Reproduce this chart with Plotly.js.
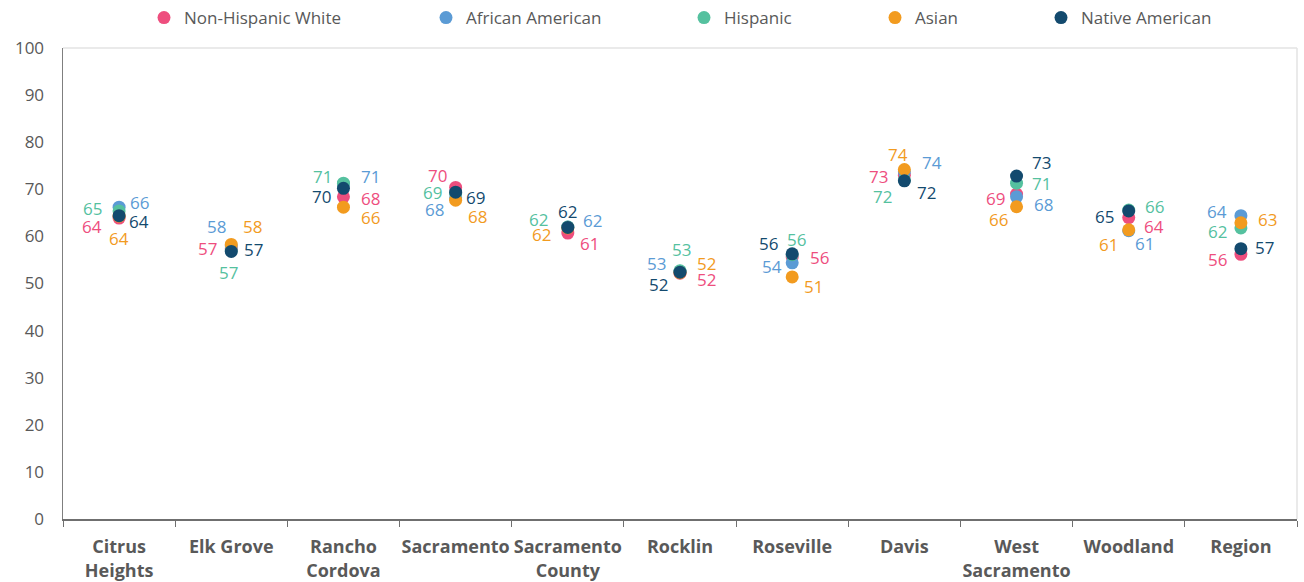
<!DOCTYPE html>
<html>
<head>
<meta charset="utf-8">
<script src="https://cdn.plot.ly/plotly-3.0.1.min.js"></script>
<style>html,body{margin:0;padding:0;background:#fff;}#chart{width:1304px;height:582px;}</style>
</head>
<body>
<div id="chart"></div>
<script>
// Category tick labels (x axis)
const tickLabels = ['Citrus<br>Heights', 'Elk Grove', 'Rancho<br>Cordova', 'Sacramento', 'Sacramento<br>County',
  'Rocklin', 'Roseville', 'Davis', 'West<br>Sacramento', 'Woodland', 'Region'];

// Series names
const seriesNames = ['Non-Hispanic White', 'African American', 'Hispanic', 'Asian', 'Native American'];

// Series values
const nonHispanicWhite = [63.9, 57.3, 68.4, 70.4, 60.7, 52.2, 55.6, 73.0, 69.0, 64.0, 56.2];
const africanAmerican  = [66.2, 58.0, 71.1, 68.2, 62.0, 52.6, 54.4, 73.7, 68.4, 61.2, 64.4];
const hispanic         = [65.4, 57.0, 71.3, 69.1, 62.0, 52.7, 56.1, 72.0, 71.3, 65.6, 61.8];
const asian            = [64.3, 58.3, 66.2, 67.7, 61.8, 52.3, 51.4, 74.2, 66.3, 61.4, 62.9];
const nativeAmerican   = [64.4, 56.8, 70.2, 69.4, 61.9, 52.4, 56.3, 71.8, 72.8, 65.4, 57.4];

// Styling
const colors = ['#EE4E7E', '#5B9BD5', '#55C19F', '#F29B1F', '#134A6E'];
// label pixel offsets [dx, dy(down)] per series per category
const labelOffsets = [
  [[-27,8],[-24,-1],[27,2],[-18,-12],[22,10],[26,6],[27,0],[-26,1],[-21,4],[25,9],[-23,5]],
  [[20,-5],[-15,-19],[27,-8],[-21,12],[25,-6],[-24,-8],[-20,4],[28,-9],[27,8],[16,13],[-24,-4]],
  [[-27,-2],[-3,22],[-21,-7],[-23,-1],[-29,-7],[1,-21],[4,-15],[-22,17],[25,0],[26,-4],[-23,4]],
  [[0,22],[21,-18],[27,10],[22,16],[-26,7],[26,-9],[21,10],[-6,-15],[-18,13],[-20,15],[27,-3]],
  [[20,6],[22,-2],[-22,8],[20,5],[0,-16],[-22,12],[-24,-10],[22,12],[25,-14],[-24,6],[24,-1]]
];
const legendX = [144, 426, 684, 875, 1041];

const allSeries = [nonHispanicWhite, africanAmerican, hispanic, asian, nativeAmerican];
const FONT = 'Open Sans, Liberation Sans, sans-serif';

const traces = allSeries.map((vals, s) => ({
  type: 'scatter', mode: 'markers', name: seriesNames[s],
  x: tickLabels, y: vals,
  marker: {color: colors[s], size: 13},
  legend: s === 0 ? 'legend' : 'legend' + (s + 1),
  hoverinfo: 'x+y+name'
}));

const annotations = [];
allSeries.forEach((vals, s) => {
  vals.forEach((v, i) => {
    annotations.push({
      x: tickLabels[i], y: v, xref: 'x', yref: 'y',
      text: String(Math.round(v)), showarrow: false,
      xanchor: 'center', yanchor: 'middle',
      xshift: labelOffsets[s][i][0], yshift: -labelOffsets[s][i][1],
      font: {family: FONT, size: 17, color: colors[s]}
    });
  });
});

const layout = {
  width: 1304, height: 582,
  margin: {l: 63, r: 7, t: 48, b: 63},
  paper_bgcolor: '#ffffff', plot_bgcolor: '#ffffff',
  showlegend: true,
  font: {family: FONT, size: 17, color: '#595959'},
  xaxis: {
    type: 'category', range: [-0.5, tickLabels.length - 0.5],
    showline: true, linecolor: '#6f6f6f', linewidth: 1.5,
    ticks: 'outside', tickson: 'boundaries', ticklen: 6, tickcolor: '#6f6f6f', tickwidth: 1,
    showgrid: false, zeroline: false, tickangle: 0, automargin: false,
    tickfont: {family: FONT, size: 18, color: '#595959', weight: 'bold'},
    ticklabelstandoff: 11
  },
  xaxis2: {
    type: 'linear', overlaying: 'x', anchor: 'y', side: 'bottom',
    range: [-0.5, tickLabels.length - 0.5],
    tickmode: 'array', tickvals: tickLabels.map((_, i) => i - 0.5).concat([tickLabels.length - 0.5]),
    ticks: 'inside', ticklen: 7, tickcolor: '#6f6f6f', tickwidth: 1,
    showticklabels: false, showgrid: false, zeroline: false, showline: false
  },
  yaxis: {
    range: [0, 100], dtick: 10, tick0: 0,
    showline: true, linecolor: '#7f7f7f', linewidth: 1.5,
    ticks: '', showgrid: false, zeroline: false,
    tickfont: {family: FONT, size: 17, color: '#595959'},
    ticklabelstandoff: 14
  },
  shapes: [
    {type: 'line', xref: 'paper', yref: 'paper', x0: 0, x1: 1, y0: 1, y1: 1, line: {color: '#e3e3e3', width: 1.5}},
    {type: 'line', xref: 'paper', yref: 'paper', x0: 1, x1: 1, y0: 0, y1: 1, line: {color: '#e3e3e3', width: 1.5}}
  ],
  annotations: annotations
};

legendX.forEach((px, s) => {
  const key = s === 0 ? 'legend' : 'legend' + (s + 1);
  layout[key] = {
    xref: 'container', yref: 'container',
    x: px / 1304, y: 1 - 18 / 582, xanchor: 'left', yanchor: 'middle',
    orientation: 'h', bgcolor: 'rgba(0,0,0,0)',
    font: {family: FONT, size: 17, color: '#595959'}
  };
});

Plotly.newPlot('chart', traces, layout, {displayModeBar: false, staticPlot: true});
</script>
</body>
</html>
